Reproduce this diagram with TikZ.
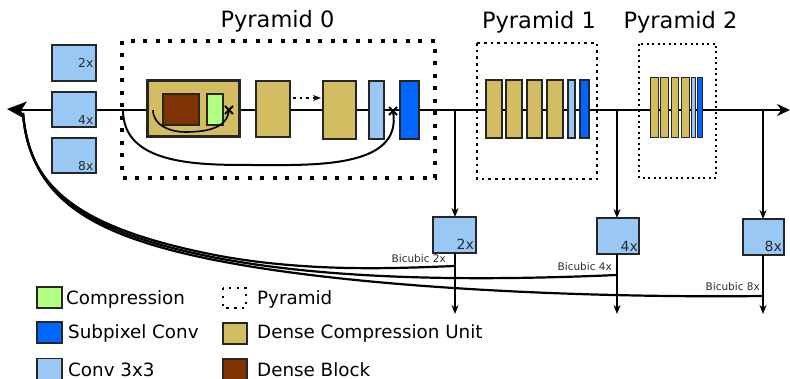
\documentclass[tikz,border=0pt]{standalone}
\usepackage{fontspec}
\setmainfont{DejaVu Sans}
\usetikzlibrary{arrows.meta}
\definecolor{convc}{HTML}{99C8F5}
\definecolor{subc}{HTML}{0066FF}
\definecolor{dcuc}{HTML}{D4BC62}
\definecolor{dbc}{HTML}{7F3300}
\definecolor{compc}{HTML}{B0FF80}
\definecolor{labc}{HTML}{2A2A2A}
\begin{document}
\begin{tikzpicture}[x=1pt,y=-1pt,
  blk/.style={draw=black!85, line width=1.1pt, inner sep=0pt, outer sep=0pt},
  conv/.style={blk, fill=convc},
  subp/.style={blk, fill=subc},
  dcu/.style={blk, fill=dcuc},
  dblk/.style={blk, fill=dbc},
  comp/.style={blk, fill=compc},
  wire/.style={line width=2pt},
  bicwire/.style={line width=2.2pt},
  thinwire/.style={line width=1.6pt},
  tip/.style={-{Stealth[length=9pt,width=7pt]}},
  title/.style={font=\fontsize{22.5}{24}\selectfont, inner sep=0pt, anchor=base},
  boxlab/.style={font=\fontsize{12.3}{14}\selectfont, text=labc, inner sep=0pt, anchor=base east},
  outlab/.style={font=\fontsize{14}{16}\selectfont, text=labc, inner sep=0pt, anchor=base east},
  biclab/.style={font=\fontsize{10.5}{12}\selectfont, text=labc, inner sep=0pt, anchor=base east},
  leglab/.style={font=\fontsize{18.3}{20}\selectfont, inner sep=0pt, anchor=base west},
  sz/.style 2 args={minimum width=#1, minimum height=#2}
]
\useasboundingbox (0,0) rectangle (790,379);

% main line
\coordinate (inL) at (20,110);
\coordinate (outR) at (790,110);
\coordinate (bstart) at (23,113);
\draw[wire, -{Stealth[length=13pt,width=12pt]}] (inL) -- (outR);
\fill (7,109) -- (27,101.5) -- (21,110.5) -- (25,119) -- cycle;

% bicubic curves
\coordinate (t2) at (455,110);
\coordinate (t4) at (617,110);
\coordinate (t8) at (763,110);
\coordinate (bj2) at (455,266);
\coordinate (bj4) at (617,275);
\coordinate (bj8) at (763,296);
\draw[bicwire] (bstart) .. controls (28,188) and (80,226) .. (200,252) .. controls (300,273.7) and (400,268) .. (bj2);
\draw[bicwire] (bstart) .. controls (29,190) and (80,228.5) .. (200,254.5) .. controls (330,282.7) and (500,280) .. (bj4);
\draw[bicwire] (bstart) .. controls (30,192) and (80,231) .. (200,257) .. controls (350,289.5) and (600,298) .. (bj8);

% left scale boxes
\node[conv, sz={44pt}{36pt}] (l2) at (74,63) {};
\node[conv, sz={44pt}{35pt}] (l4) at (74,109.5) {};
\node[conv, sz={44pt}{35pt}] (l8) at (74,155.5) {};
\node[boxlab] at (93.5,67.5) {2x};
\node[boxlab] at (93.5,124.5) {4x};
\node[boxlab] at (93.5,170.5) {8x};

% Pyramid 0
\draw[line width=4pt, dash pattern=on 4pt off 8.5pt] (122,41) rectangle (435,178);
\node[title] (tp0) at (277.5,28) {Pyramid 0};
\node[dcu, line width=3pt, sz={92pt}{56pt}] (d1) at (193,109) {};
\node[dblk, sz={36pt}{31pt}] (db1) at (181,109.5) {};
\node[comp, sz={16pt}{31pt}] (cp1) at (215,109.5) {};
\node[dcu, sz={34pt}{56pt}] (d2) at (273,109) {};
\node[dcu, sz={33pt}{58pt}] (d3) at (339.5,110) {};
\node[conv, sz={15pt}{58pt}] (cv0) at (376.5,110) {};
\node[subp, sz={19pt}{58pt}] (sp0) at (409.5,110) {};
\draw[line width=2.6pt, dash pattern=on 2.6pt off 4pt, -{Stealth[length=8pt,width=6pt]}] (d2.east |- 0,98) ++(3,0) -- ([xshift=-2pt]d3.west |- 0,98);

% skip connections
\coordinate (s1a) at (153,110);
\coordinate (x1) at (229,110);
\draw[thinwire] (s1a) to[out=-90,in=180] (185,132) to[out=0,in=-95] (x1);
\coordinate (s2a) at (123,110);
\coordinate (x2) at (393,111);
\draw[wire] (s2a) to[out=-90,in=180] (250,165) to[out=0,in=-80] (x2);
\foreach \c in {x1,x2}{
  \draw[line width=2pt] (\c) +(-4,-4) -- +(4,4) (\c) +(-4,4) -- +(4,-4);
}

% Pyramid 1
\draw[line width=2.7pt, dash pattern=on 2.7pt off 4pt] (477,43) rectangle (597,179);
\node[title] (tp1) at (539,29) {Pyramid 1};
\node[dcu, sz={16pt}{58pt}] (p1a) at (494,109) {};
\node[dcu, sz={16pt}{58pt}] (p1b) at (514,109) {};
\node[dcu, sz={15pt}{58pt}] (p1c) at (534.5,109) {};
\node[dcu, sz={16pt}{58pt}] (p1d) at (555,109) {};
\node[conv, sz={7pt}{58pt}] (p1e) at (571.5,109) {};
\node[subp, sz={9pt}{58pt}] (p1f) at (584.5,109) {};

% Pyramid 2
\draw[line width=2pt, dash pattern=on 2pt off 3.5pt] (639,44) rectangle (716,178);
\node[title] (tp2) at (680.5,29) {Pyramid 2};
\node[dcu, line width=0.8pt, sz={8pt}{60pt}] (p2a) at (654,107) {};
\node[dcu, line width=0.8pt, sz={8pt}{60pt}] (p2b) at (664,107) {};
\node[dcu, line width=0.8pt, sz={7pt}{60pt}] (p2c) at (674.5,107) {};
\node[dcu, line width=0.8pt, sz={8pt}{60pt}] (p2d) at (685,107) {};
\node[conv, line width=0.8pt, sz={4pt}{60pt}] (p2e) at (693,107) {};
\node[subp, line width=0.8pt, sz={5pt}{60pt}] (p2f) at (699.5,107) {};

% outputs
\node[conv, sz={43pt}{36pt}] (o2) at (454.5,235) {};
\node[conv, sz={42pt}{36pt}] (o4) at (618,236) {};
\node[conv, sz={41pt}{36pt}] (o8) at (763.5,237) {};
\node[outlab] at (474,250) {2x};
\node[outlab] at (638,252) {4x};
\node[outlab] at (782,252) {8x};
\coordinate (e2) at (455,314);
\coordinate (e4) at (617,314);
\coordinate (e8) at (763,314);
\draw[thinwire, tip] (t2) -- (t2 |- o2.north);
\draw[thinwire, tip] (t4) -- (t4 |- o4.north);
\draw[thinwire, tip] (t8) -- (t8 |- o8.north);
\draw[thinwire, tip] (t2 |- o2.south) -- (e2);
\draw[thinwire, tip] (t4 |- o4.south) -- (e4);
\draw[thinwire, tip] (t8 |- o8.south) -- (e8);
\node[biclab] at (446,263) {Bicubic 2x};
\node[biclab] at (612,271) {Bicubic 4x};
\node[biclab] at (760,291) {Bicubic 8x};

% legend
\node[comp, sz={25pt}{21pt}] (lg1) at (49.5,297.5) {};
\node[subp, sz={25pt}{21pt}] (lg2) at (49.5,332.5) {};
\node[conv, sz={25pt}{22pt}] (lg3) at (49.5,369.5) {};
\draw[line width=2.3pt, dash pattern=on 2.3pt off 5.5pt] (223,288) rectangle (246,308);
\node[dcu, sz={24pt}{21pt}] (lg5) at (235,333.5) {};
\node[dblk, sz={24pt}{21pt}] (lg6) at (235,369.5) {};
\node[leglab] at (66,305) {Compression};
\node[leglab] at (68,339) {Subpixel Conv};
\node[leglab] at (68,376) {Conv 3x3};
\node[leglab] at (257,305) {Pyramid};
\node[leglab] at (257,339) {Dense Compression Unit};
\node[leglab] at (257,376) {Dense Block};
\end{tikzpicture}
\end{document}
